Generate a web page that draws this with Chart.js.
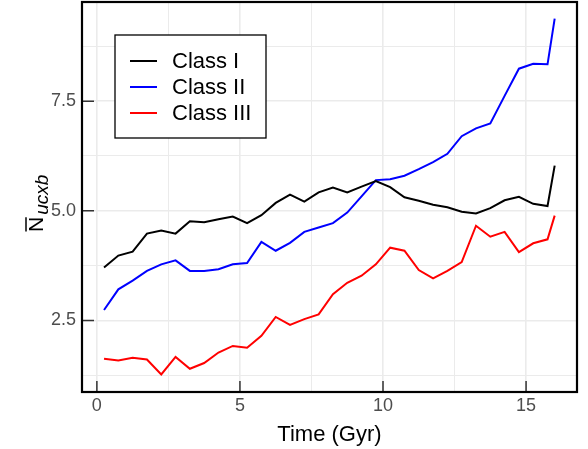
<!DOCTYPE html>
<html>
<head>
<meta charset="utf-8">
<script src="https://cdn.jsdelivr.net/npm/chart.js@4.4.0/dist/chart.umd.min.js"></script>
<style>
    body { margin: 0; background: #ffffff; }
</style>
</head>
<body>
<canvas id="myChart" width="588" height="449"></canvas>
<script>
// time in Gyr
var times = [0.25, 0.75, 1.25, 1.75, 2.25, 2.75, 3.25, 3.75, 4.25, 4.75, 5.25, 5.75, 6.25, 6.75, 7.25, 7.75,
    8.25, 8.75, 9.25, 9.75, 10.25, 10.75, 11.25, 11.75, 12.25, 12.75, 13.25, 13.75, 14.25, 14.75, 15.25, 15.75, 16.0];

var classI = [3.71, 3.98, 4.07, 4.48, 4.55, 4.48, 4.76, 4.74, 4.81, 4.87, 4.72, 4.90, 5.18, 5.37, 5.21, 5.42,
    5.53, 5.42, 5.55, 5.68, 5.54, 5.31, 5.23, 5.14, 5.08, 4.98, 4.94, 5.06, 5.24, 5.32, 5.16, 5.11, 6.03];

var classII = [2.74, 3.21, 3.41, 3.63, 3.78, 3.87, 3.63, 3.63, 3.67, 3.78, 3.81, 4.29, 4.09, 4.27, 4.52, 4.62,
    4.72, 4.96, 5.33, 5.70, 5.72, 5.80, 5.95, 6.11, 6.30, 6.70, 6.88, 6.99, 7.62, 8.24, 8.35, 8.34, 9.38];

var classIII = [1.63, 1.59, 1.65, 1.61, 1.27, 1.67, 1.40, 1.53, 1.77, 1.92, 1.88, 2.15, 2.58, 2.40, 2.53, 2.64,
    3.10, 3.36, 3.52, 3.78, 4.16, 4.09, 3.65, 3.46, 3.63, 3.83, 4.66, 4.41, 4.52, 4.06, 4.26, 4.35, 4.89];

var seriesNames = ["Class I", "Class II", "Class III"];
var seriesColors = ["#000000", "#0000ff", "#ff0000"];

var xMajor = [0, 5, 10, 15];
var xMinor = [2.5, 7.5, 12.5];
var yMajor = [2.5, 5.0, 7.5];
var yMinor = [1.25, 3.75, 6.25, 8.75];

var FONT = "'Liberation Sans', Arial, sans-serif";

function toPoints(ys) {
    return times.map(function (t, i) { return { x: t, y: ys[i] }; });
}

function isMajor(list, v) {
    return list.some(function (m) { return Math.abs(m - v) < 1e-6; });
}

var framePlugin = {
    id: 'frame',
    afterDraw: function (chart) {
        var ctx = chart.ctx, a = chart.chartArea;
        var xs = chart.scales.x, ys = chart.scales.y;
        ctx.save();

        // inward tick marks
        ctx.strokeStyle = '#333333';
        ctx.lineWidth = 1.5;
        ctx.beginPath();
        xMajor.forEach(function (v) {
            var px = xs.getPixelForValue(v);
            ctx.moveTo(px, a.bottom);
            ctx.lineTo(px, a.bottom - 11);
        });
        yMajor.forEach(function (v) {
            var py = ys.getPixelForValue(v);
            ctx.moveTo(a.left, py);
            ctx.lineTo(a.left + 12, py);
        });
        ctx.stroke();

        // panel border
        ctx.strokeStyle = '#000000';
        ctx.lineWidth = 2.2;
        ctx.strokeRect(a.left, a.top, a.right - a.left, a.bottom - a.top);

        // x title
        ctx.fillStyle = '#000000';
        ctx.font = '22px ' + FONT;
        ctx.textAlign = 'center';
        ctx.textBaseline = 'alphabetic';
        ctx.fillText('Time (Gyr)', (a.left + a.right) / 2, 441);

        // y title: N with overline, italic subscript
        ctx.save();
        ctx.translate(43, 232);
        ctx.rotate(-Math.PI / 2);
        ctx.textAlign = 'left';
        ctx.font = '21px ' + FONT;
        ctx.fillText('N', 0, 0);
        var nw = ctx.measureText('N').width;
        ctx.lineWidth = 1.5;
        ctx.beginPath();
        ctx.moveTo(0.5, -17);
        ctx.lineTo(nw - 0.5, -17);
        ctx.stroke();
        ctx.font = 'italic 19px ' + FONT;
        ctx.fillText('ucxb', nw + 2, 5);
        ctx.restore();

        // legend
        var lx = 115, ly = 35, lw = 151, lh = 103;
        ctx.fillStyle = '#ffffff';
        ctx.fillRect(lx, ly, lw, lh);
        ctx.strokeStyle = '#000000';
        ctx.lineWidth = 1.3;
        ctx.strokeRect(lx, ly, lw, lh);
        ctx.font = '22px ' + FONT;
        ctx.textAlign = 'left';
        ctx.textBaseline = 'middle';
        seriesNames.forEach(function (name, i) {
            var cy = 61 + i * 26;
            ctx.strokeStyle = seriesColors[i];
            ctx.lineWidth = 2;
            ctx.beginPath();
            ctx.moveTo(130, cy);
            ctx.lineTo(157, cy);
            ctx.stroke();
            ctx.fillStyle = '#000000';
            ctx.fillText(name, 172, cy + 1);
        });

        ctx.restore();
    }
};

var series = [classI, classII, classIII];
var ctx = document.getElementById('myChart').getContext('2d');
var myChart = new Chart(ctx, {
    type: 'line',
    data: {
        datasets: series.map(function (s, i) {
            return {
                label: seriesNames[i],
                data: toPoints(s),
                borderColor: seriesColors[i],
                borderWidth: 2,
                pointRadius: 0,
                fill: false,
                tension: 0
            };
        })
    },
    options: {
        responsive: false,
        animation: false,
        layout: {
            padding: { left: 0, right: 11, top: 2, bottom: 0 }
        },
        scales: {
            x: {
                type: 'linear',
                min: -0.52,
                max: 16.78,
                afterBuildTicks: function (scale) {
                    scale.ticks = xMajor.concat(xMinor).sort(function (p, q) { return p - q; })
                        .map(function (v) { return { value: v }; });
                },
                afterFit: function (scale) {
                    scale.height = 57;
                    scale.paddingLeft = 0;
                    scale.paddingRight = 0;
                },
                border: { display: false },
                grid: {
                    drawTicks: false,
                    color: '#ebebeb',
                    lineWidth: function (c) { return c.tick && isMajor(xMajor, c.tick.value) ? 1.6 : 1; }
                },
                ticks: {
                    autoSkip: false,
                    maxRotation: 0,
                    padding: 3,
                    color: '#4d4d4d',
                    font: { family: FONT, size: 18 },
                    callback: function (value) { return isMajor(xMajor, value) ? String(value) : ''; }
                }
            },
            y: {
                type: 'linear',
                min: 0.87,
                max: 9.76,
                afterBuildTicks: function (scale) {
                    scale.ticks = yMajor.concat(yMinor).sort(function (p, q) { return p - q; })
                        .map(function (v) { return { value: v }; });
                },
                afterFit: function (scale) {
                    scale.width = 82;
                    scale.paddingTop = 0;
                    scale.paddingBottom = 0;
                },
                border: { display: false },
                grid: {
                    drawTicks: false,
                    color: '#ebebeb',
                    lineWidth: function (c) { return c.tick && isMajor(yMajor, c.tick.value) ? 1.6 : 1; }
                },
                ticks: {
                    autoSkip: false,
                    padding: 6,
                    color: '#4d4d4d',
                    font: { family: FONT, size: 18 },
                    callback: function (value) { return isMajor(yMajor, value) ? value.toFixed(1) : ''; }
                }
            }
        },
        plugins: {
            legend: { display: false },
            tooltip: { enabled: false }
        }
    },
    plugins: [framePlugin]
});
</script>
</body>
</html>
